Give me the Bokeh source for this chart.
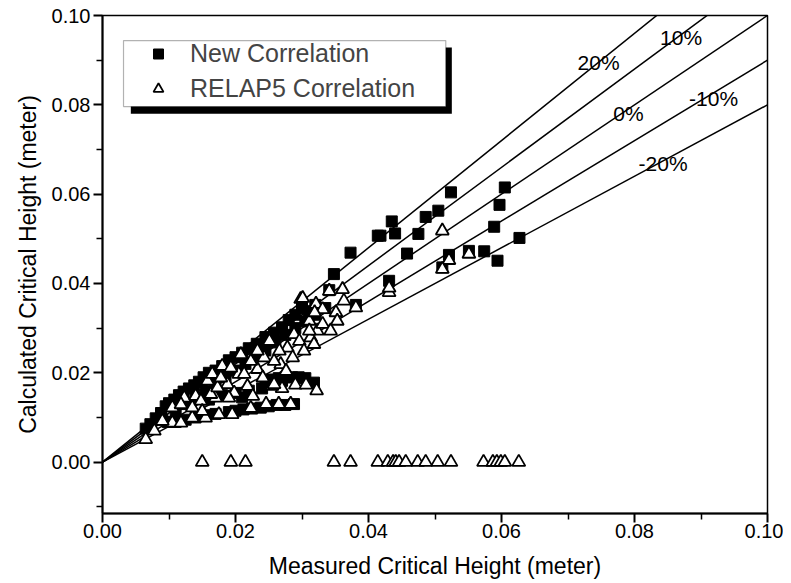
from bokeh.plotting import figure
from bokeh.models import (Range1d, FixedTicker, PrintfTickFormatter, Legend, LegendItem,
                          BoxAnnotation)
from bokeh.core.properties import value
from bokeh.embed import file_html
from bokeh.resources import INLINE

FONT = "Liberation Sans"

# ---- data ----
new_x = [0.0065, 0.0072, 0.0080, 0.0088, 0.0095, 0.0100, 0.0108, 0.0115, 0.0122, 0.0130,
         0.0138, 0.0145, 0.0152, 0.0160, 0.0170, 0.0180, 0.0190, 0.0200, 0.0210, 0.0220,
         0.0232, 0.0245, 0.0258, 0.0270, 0.0280, 0.0290, 0.0300, 0.0310, 0.0320,
         0.0090, 0.0110, 0.0125, 0.0140, 0.0155, 0.0170, 0.0185, 0.0200, 0.0215, 0.0230,
         0.0245, 0.0260, 0.0275, 0.0290, 0.0305, 0.0320, 0.0335,
         0.0245, 0.0255, 0.0265, 0.0275, 0.0285, 0.0295, 0.0305, 0.0318, 0.0250, 0.0270,
         0.0190, 0.0200, 0.0212, 0.0225, 0.0238, 0.0250, 0.0262, 0.0275, 0.0288, 0.0170,
         0.0155, 0.0140, 0.0125, 0.0110, 0.0098,
         0.0160, 0.0180, 0.0200, 0.0220, 0.0240, 0.0210,
         0.0348, 0.0373, 0.0341, 0.0381, 0.0414, 0.0418, 0.0435, 0.0440, 0.0431, 0.0458,
         0.0475, 0.0486, 0.0505, 0.0524, 0.0511, 0.0521, 0.0551, 0.0574, 0.0589, 0.0594,
         0.0597, 0.0605, 0.0627]
new_y = [0.0075, 0.0085, 0.0098, 0.0110, 0.0125, 0.0132, 0.0140, 0.0150, 0.0158, 0.0165,
         0.0172, 0.0180, 0.0190, 0.0200, 0.0205, 0.0215, 0.0228, 0.0235, 0.0245, 0.0255,
         0.0265, 0.0280, 0.0290, 0.0302, 0.0318, 0.0330, 0.0345, 0.0338, 0.0352,
         0.0095, 0.0115, 0.0130, 0.0145, 0.0160, 0.0175, 0.0190, 0.0205, 0.0220, 0.0238,
         0.0250, 0.0268, 0.0285, 0.0300, 0.0315, 0.0330, 0.0345,
         0.0180, 0.0185, 0.0188, 0.0190, 0.0190, 0.0190, 0.0188, 0.0178, 0.0175, 0.0182,
         0.0112, 0.0115, 0.0118, 0.0120, 0.0122, 0.0125, 0.0128, 0.0128, 0.0130, 0.0108,
         0.0105, 0.0100, 0.0095, 0.0090, 0.0090,
         0.0140, 0.0150, 0.0155, 0.0160, 0.0165, 0.0145,
         0.0421, 0.0469, 0.0385, 0.0352, 0.0507, 0.0507, 0.0539, 0.0512, 0.0406, 0.0467,
         0.0511, 0.0549, 0.0563, 0.0604, 0.0436, 0.0464, 0.0473, 0.0472, 0.0527, 0.0451,
         0.0576, 0.0615, 0.0502]

relap_x = [0.0065, 0.0078, 0.0090, 0.0105, 0.0118, 0.0135, 0.0155, 0.0175, 0.0195, 0.0223,
           0.0246, 0.0265, 0.0283,
           0.0290, 0.0306, 0.0322, 0.0270, 0.0255,
           0.0123, 0.0140, 0.0158, 0.0170, 0.0180, 0.0188, 0.0198, 0.0205, 0.0218, 0.0226,
           0.0208, 0.0233, 0.0243, 0.0251, 0.0258, 0.0268, 0.0278, 0.0288, 0.0298, 0.0311,
           0.0321, 0.0331, 0.0341, 0.0361, 0.0363, 0.0381, 0.0351,
           0.0090, 0.0105, 0.0118, 0.0135, 0.0148, 0.0150, 0.0163, 0.0173, 0.0165, 0.0178,
           0.0193, 0.0190, 0.0213, 0.0223, 0.0241, 0.0233, 0.0258, 0.0266, 0.0276, 0.0286,
           0.0296, 0.0303, 0.0313, 0.0323, 0.0318, 0.0331, 0.0343, 0.0353, 0.0319, 0.0311,
           0.0301, 0.0431, 0.0511, 0.0521, 0.0511, 0.0551, 0.0431,
           0.0150, 0.0193, 0.0215, 0.0348, 0.0373, 0.0414, 0.0429, 0.0437, 0.0441, 0.0446,
           0.0456, 0.0474, 0.0486, 0.0504, 0.0524, 0.0573, 0.0587, 0.0593, 0.0599, 0.0605,
           0.0626]
relap_y = [0.0051, 0.0070, 0.0096, 0.0088, 0.0088, 0.0099, 0.0099, 0.0107, 0.0107, 0.0121,
           0.0130, 0.0130, 0.0130,
           0.0173, 0.0173, 0.0160, 0.0165, 0.0170,
           0.0144, 0.0148, 0.0182, 0.0144, 0.0215, 0.0174, 0.0155, 0.0197, 0.0170, 0.0148,
           0.0241, 0.0208, 0.0234, 0.0271, 0.0174, 0.0219, 0.0256, 0.0286, 0.0365, 0.0316,
           0.0354, 0.0342, 0.0383, 0.0387, 0.0361, 0.0346, 0.0335,
           0.0092, 0.0122, 0.0129, 0.0122, 0.0137, 0.0114, 0.0152, 0.0167, 0.0197, 0.0189,
           0.0211, 0.0144, 0.0197, 0.0226, 0.0189, 0.0249, 0.0226, 0.0249, 0.0204, 0.0234,
           0.0271, 0.0249, 0.0279, 0.0294, 0.0264, 0.0309, 0.0294, 0.0316, 0.0335, 0.0294,
           0.0367, 0.0380, 0.0518, 0.0452, 0.0432, 0.0466, 0.0390,
           0.0, 0.0, 0.0, 0.0, 0.0, 0.0, 0.0, 0.0, 0.0, 0.0,
           0.0, 0.0, 0.0, 0.0, 0.0, 0.0, 0.0, 0.0, 0.0, 0.0,
           0.0]

dev_factors = [1.2, 1.1, 1.0, 0.9, 0.8]
dev_labels = ["20%", "10%", "0%", "-10%", "-20%"]
dev_label_x = [0.0746, 0.0870, 0.0791, 0.0919, 0.0843]
dev_label_y = [0.0895, 0.0951, 0.0780, 0.0814, 0.0668]
line_x = [0.0, 0.1]

x_ticks = [0.0, 0.02, 0.04, 0.06, 0.08, 0.10]
x_minor = [0.01, 0.03, 0.05, 0.07, 0.09]
y_ticks = [0.0, 0.02, 0.04, 0.06, 0.08, 0.10]
y_minor = [-0.01, 0.01, 0.03, 0.05, 0.07, 0.09]

p = figure(width=783, height=575, frame_width=665, frame_height=498,
           x_range=Range1d(0, 0.1), y_range=Range1d(-0.0115, 0.10),
           output_backend="svg", toolbar_location=None,
           min_border_left=102, min_border_right=16, min_border_top=15, min_border_bottom=62)
p.background_fill_color = "white"
p.border_fill_color = "white"
p.grid.visible = False
p.outline_line_color = "black"
p.outline_line_width = 1.5

for f in dev_factors:
    p.line(line_x, [f * v for v in line_x], line_color="black", line_width=1.5)

p.text(x=dev_label_x, y=dev_label_y, text=dev_labels, text_align="center",
       text_baseline="middle", text_font=value(FONT), text_font_size="21px",
       text_color="black")

r_new = p.scatter(new_x, new_y, marker="square", size=11, fill_color="black",
                  line_color="black", line_width=1)
r_rel = p.scatter(relap_x, relap_y, marker="triangle", size=13, fill_color="white",
                  line_color="black", line_width=1.8)

for ax in (p.xaxis[0], p.yaxis[0]):
    ax.axis_line_width = 2
    ax.major_tick_line_width = 2
    ax.minor_tick_line_width = 1.5
    ax.major_tick_in = 0
    ax.minor_tick_in = 0
    ax.major_tick_out = 9
    ax.minor_tick_out = 6
    ax.major_label_text_font = FONT
    ax.major_label_text_font_size = "20px"
    ax.major_label_text_color = "black"
    ax.axis_label_text_font = FONT
    ax.axis_label_text_font_size = "23px"
    ax.axis_label_text_font_style = "normal"
    ax.axis_label_text_color = "black"
    ax.formatter = PrintfTickFormatter(format="%.2f")

p.xaxis[0].ticker = FixedTicker(ticks=x_ticks, minor_ticks=x_minor)
p.yaxis[0].ticker = FixedTicker(ticks=y_ticks, minor_ticks=y_minor)
p.xaxis[0].axis_label = "Measured Critical Height (meter)"
p.yaxis[0].axis_label = "Calculated Critical Height (meter)"
p.xaxis[0].major_label_standoff = 1
p.xaxis[0].axis_label_standoff = 12
p.yaxis[0].major_label_standoff = 3
p.yaxis[0].axis_label_standoff = 8

# legend frame with drop shadow
shadow = BoxAnnotation(left=0.00426, right=0.05253, bottom=0.07803, top=0.09283,
                       fill_color="black", fill_alpha=1.0, line_alpha=0)
box = BoxAnnotation(left=0.00316, right=0.05162, bottom=0.07960, top=0.09439,
                    fill_color="white", fill_alpha=1.0, line_color="black", line_width=1.2)
p.add_layout(shadow)
p.add_layout(box)

legend = Legend(items=[LegendItem(label="New Correlation", renderers=[r_new]),
                       LegendItem(label="RELAP5 Correlation", renderers=[r_rel])],
                location=(21, 405), padding=5, margin=0, spacing=6,
                glyph_width=60, glyph_height=25, label_height=25, label_standoff=2,
                label_text_font=FONT, label_text_font_size="25px",
                background_fill_alpha=0, border_line_alpha=0)
p.add_layout(legend)

open("out.html", "w").write(file_html(p, INLINE))
